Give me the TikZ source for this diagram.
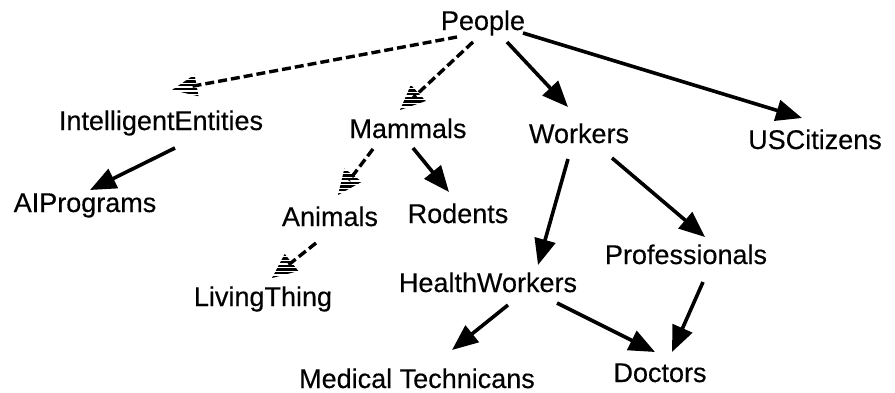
\documentclass[tikz,border=0pt]{standalone}
\usepackage{fontspec}
\setmainfont{Liberation Sans}
\newfontfamily\labelfont{Liberation Sans}[FakeBold=0.35]
\usetikzlibrary{arrows.meta,calc}

\tikzset{
  concept/.style={inner sep=0pt, anchor=base,
    font=\labelfont\fontsize{27}{30}\selectfont, text height=19.5pt, text depth=5.5pt},
  kindof/.style={line width=3.6pt, -{Triangle[length=26pt,width=21pt]}},
  isaline/.style={line width=3.4pt, dash pattern=on 9pt off 4pt, shorten >=18pt},
  stripe/.style={line width=2.3pt},
}

% dashed "is a" link ending in a striped arrowhead
\newcommand\isalink[2]{%
  \coordinate (isa-s) at #1;
  \coordinate (isa-t) at #2;
  \draw[isaline] (isa-s) -- (isa-t);
  \begin{scope}
    \clip (isa-t)
      -- ($(isa-t)!25pt!(isa-s)!11pt!90:(isa-t)$)
      -- ($(isa-t)!25pt!(isa-s)!11pt!-90:(isa-t)$) -- cycle;
    \foreach \k in {-8,...,8}
      \draw[stripe] ($(isa-t)+(-30,3.7*\k-1)$) -- ($(isa-t)+(30,3.7*\k-1)$);
  \end{scope}
}

\begin{document}
\begin{tikzpicture}[x=1pt,y=-1pt]
\useasboundingbox (0,0) rectangle (895,392);

% concepts
\node[concept] (people)  at (483,30)  {People};
\node[concept] (intel)   at (161,130) {IntelligentEntities};
\node[concept] (ai)      at (85,212)  {AIPrograms};
\node[concept] (mammals) at (408,138) {Mammals};
\node[concept] (workers) at (579,143) {Workers};
\node[concept] (us)      at (815,149) {USCitizens};
\node[concept] (animals) at (330,226) {Animals};
\node[concept] (rodents) at (458,223) {Rodents};
\node[concept] (living)  at (263,306) {LivingThing};
\node[concept] (health)  at (488,292) {HealthWorkers};
\node[concept] (prof)    at (686,264) {Professionals};
\node[concept, text depth=1pt] (medtech) at (417,388) {Medical Technicans};
\node[concept] (doctors) at (660,382) {Doctors};

% solid links
\draw[kindof] ($(people.base)+(24,12)$)  -- ($(workers.base)+(-11,-36)$);
\draw[kindof] ($(people.base)+(40,3)$)   -- ($(us.base)+(-13,-31)$);
\draw[kindof] ($(intel.base)+(14,18)$)   -- ($(ai.base)+(5,-22)$);
\draw[kindof] ($(mammals.base)+(5,10)$)  -- ($(rodents.base)+(-9,-31)$);
\draw[kindof] ($(workers.base)+(-11,16)$) -- ($(health.base)+(50,-27)$);
\draw[kindof] ($(workers.base)+(33,15)$) -- ($(prof.base)+(19,-27)$);
\draw[kindof] ($(health.base)+(20,13)$)  -- ($(medtech.base)+(35,-38)$);
\draw[kindof] ($(health.base)+(69,11)$)  -- ($(doctors.base)+(-5,-30)$);
\draw[kindof] ($(prof.base)+(17,18)$)    -- ($(doctors.base)+(12,-30)$);

% dashed links
\isalink{($(people.base)+(-26,7)$)}   {($(intel.base)+(11,-40)$)}
\isalink{($(people.base)+(-10,12)$)}  {($(mammals.base)+(-8,-28)$)}
\isalink{($(mammals.base)+(-35,11)$)} {($(animals.base)+(8,-31)$)}
\isalink{($(animals.base)+(-14,17)$)} {($(living.base)+(9,-28)$)}
\end{tikzpicture}
\end{document}
